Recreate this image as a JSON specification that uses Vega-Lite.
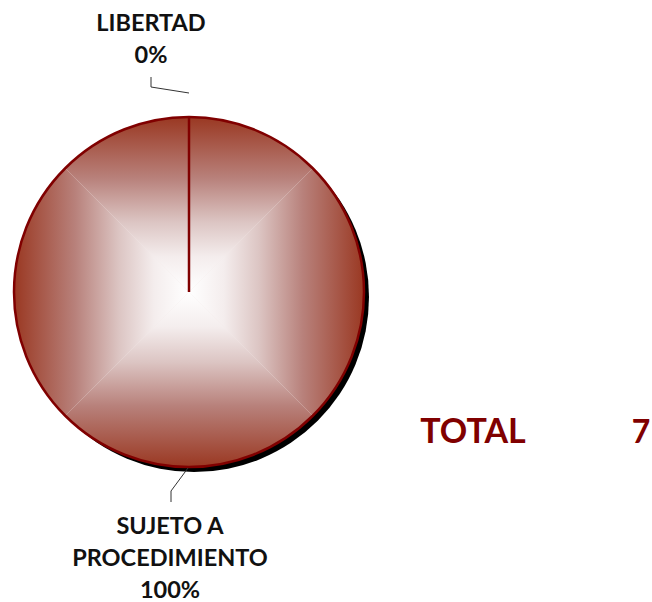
{
  "$schema": "https://vega.github.io/schema/vega-lite/v6.json",
  "width": 652,
  "height": 602,
  "padding": 0,
  "autosize": {"type": "none"},
  "background": "white",
  "config": {"view": {"stroke": null}},
  "params": [
    {"name": "cx", "value": 189},
    {"name": "cy", "value": 292},
    {"name": "R", "value": 175}
  ],
  "data": {
    "values": [
      {"categoria": "LIBERTAD", "valor": 0, "etiqueta": "LIBERTAD\n0%"},
      {"categoria": "SUJETO A PROCEDIMIENTO", "valor": 7, "etiqueta": "SUJETO A\nPROCEDIMIENTO\n100%"}
    ]
  },
  "layer": [
    {
      "data": {"values": [{}]},
      "mark": {"type": "arc", "x": {"expr": "cx + 5"}, "y": {"expr": "cy + 5"}, "outerRadius": {"expr": "R"}, "theta": 0, "theta2": 6.2832, "fill": "black"}
    },
    {
      "data": {"values": [{}]},
      "mark": {"type": "arc", "x": {"expr": "cx"}, "y": {"expr": "cy"}, "outerRadius": {"expr": "R"}, "theta": 0, "theta2": 6.2832, "fill": "#f3e9e8"}
    },
    {
      "data": {"values": [{}]},
      "mark": {"type": "arc", "x": {"expr": "cx"}, "y": {"expr": "cy"}, "outerRadius": {"expr": "R"}, "theta": -0.7854, "theta2": 0.7854,
        "fill": {"gradient": "linear", "x1": 0, "y1": 0, "x2": 0, "y2": 1, "stops": [
          {"offset": 0, "color": "#9a3822"}, {"offset": 0.35, "color": "#b8817b"}, {"offset": 0.6, "color": "#dcc5c3"}, {"offset": 0.8, "color": "#f4eded"}, {"offset": 1, "color": "#ffffff"}]}}
    },
    {
      "data": {"values": [{}]},
      "mark": {"type": "arc", "x": {"expr": "cx"}, "y": {"expr": "cy"}, "outerRadius": {"expr": "R"}, "theta": 0.7854, "theta2": 2.3562,
        "fill": {"gradient": "linear", "x1": 1, "y1": 0, "x2": 0, "y2": 0, "stops": [
          {"offset": 0, "color": "#9a3822"}, {"offset": 0.35, "color": "#b8817b"}, {"offset": 0.6, "color": "#dcc5c3"}, {"offset": 0.8, "color": "#f4eded"}, {"offset": 1, "color": "#ffffff"}]}}
    },
    {
      "data": {"values": [{}]},
      "mark": {"type": "arc", "x": {"expr": "cx"}, "y": {"expr": "cy"}, "outerRadius": {"expr": "R"}, "theta": 2.3562, "theta2": 3.927,
        "fill": {"gradient": "linear", "x1": 0, "y1": 1, "x2": 0, "y2": 0, "stops": [
          {"offset": 0, "color": "#9a3822"}, {"offset": 0.35, "color": "#b8817b"}, {"offset": 0.6, "color": "#dcc5c3"}, {"offset": 0.8, "color": "#f4eded"}, {"offset": 1, "color": "#ffffff"}]}}
    },
    {
      "data": {"values": [{}]},
      "mark": {"type": "arc", "x": {"expr": "cx"}, "y": {"expr": "cy"}, "outerRadius": {"expr": "R"}, "theta": 3.927, "theta2": 5.4978,
        "fill": {"gradient": "linear", "x1": 0, "y1": 0, "x2": 1, "y2": 0, "stops": [
          {"offset": 0, "color": "#9a3822"}, {"offset": 0.35, "color": "#b8817b"}, {"offset": 0.6, "color": "#dcc5c3"}, {"offset": 0.8, "color": "#f4eded"}, {"offset": 1, "color": "#ffffff"}]}}
    },
    {
      "mark": {"type": "arc", "x": {"expr": "cx"}, "y": {"expr": "cy"}, "outerRadius": {"expr": "R"}, "filled": false, "stroke": "#800000", "strokeWidth": 2.5},
      "encoding": {
        "theta": {"field": "valor", "type": "quantitative", "stack": true},
        "order": {"field": "categoria", "sort": "ascending"},
        "detail": {"field": "categoria"}
      }
    },
    {
      "mark": {"type": "text", "x": {"expr": "cx"}, "y": {"expr": "cy"}, "radius": 259,
        "dy": {"expr": "datum.categoria == 'LIBERTAD' ? -9.5 : -24.5"},
        "dx": {"expr": "datum.categoria == 'LIBERTAD' ? -38 : -19"},
        "font": "Lato", "fontWeight": "bold", "fontSize": 23.5, "lineHeight": 32, "lineBreak": "\n", "fill": "#111111", "align": "center", "baseline": "middle"},
      "encoding": {
        "theta": {"field": "valor", "type": "quantitative", "stack": true},
        "order": {"field": "categoria", "sort": "ascending"},
        "detail": {"field": "categoria"},
        "text": {"field": "etiqueta"}
      }
    },
    {
      "data": {"values": [{}]},
      "mark": {"type": "rule", "stroke": "#333333", "strokeWidth": 1},
      "encoding": {
        "x": {"value": {"expr": "cx - 38"}}, "y": {"value": {"expr": "cy - 215"}},
        "x2": {"value": {"expr": "cx - 38"}}, "y2": {"value": {"expr": "cy - 205"}}
      }
    },
    {
      "data": {"values": [{}]},
      "mark": {"type": "rule", "stroke": "#333333", "strokeWidth": 1},
      "encoding": {
        "x": {"value": {"expr": "cx - 38"}}, "y": {"value": {"expr": "cy - 205"}},
        "x2": {"value": {"expr": "cx"}}, "y2": {"value": {"expr": "cy - 199"}}
      }
    },
    {
      "data": {"values": [{}]},
      "mark": {"type": "rule", "stroke": "#333333", "strokeWidth": 1},
      "encoding": {
        "x": {"value": {"expr": "cx - 1"}}, "y": {"value": {"expr": "cy + 176"}},
        "x2": {"value": {"expr": "cx - 18"}}, "y2": {"value": {"expr": "cy + 199"}}
      }
    },
    {
      "data": {"values": [{}]},
      "mark": {"type": "rule", "stroke": "#333333", "strokeWidth": 1},
      "encoding": {
        "x": {"value": {"expr": "cx - 18"}}, "y": {"value": {"expr": "cy + 199"}},
        "x2": {"value": {"expr": "cx - 18"}}, "y2": {"value": {"expr": "cy + 210"}}
      }
    },
    {
      "transform": [{"aggregate": [{"op": "sum", "field": "valor", "as": "total"}]}],
      "layer": [
        {
          "mark": {"type": "text", "text": "TOTAL", "x": {"expr": "cx + 284"}, "y": {"expr": "cy + 151"}, "font": "Lato", "fontWeight": "bold", "fontSize": 34, "fill": "#800000", "align": "center", "baseline": "alphabetic"}
        },
        {
          "mark": {"type": "text", "x": {"expr": "cx + 452"}, "y": {"expr": "cy + 151"}, "font": "Lato", "fontWeight": "bold", "fontSize": 32, "fill": "#800000", "align": "center", "baseline": "alphabetic"},
          "encoding": {"text": {"field": "total", "type": "quantitative"}}
        }
      ]
    }
  ]
}
